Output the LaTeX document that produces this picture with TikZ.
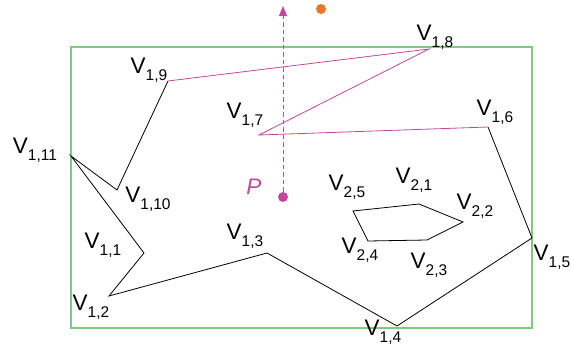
\documentclass[tikz,border=0pt]{standalone}
\usepackage{fontspec}
\setmainfont{Liberation Sans}
\usetikzlibrary{arrows.meta}
\definecolor{mag}{HTML}{C4479E}
\definecolor{grn}{HTML}{80C97F}
\definecolor{org}{HTML}{E8772A}
\newcommand{\vlab}[1]{V\raisebox{-0.32em}{\fontsize{15.5}{16}\selectfont #1}}
\tikzset{
  lbl/.style={inner sep=0pt, font=\fontsize{22.5}{24}\selectfont},
  edge/.style={line width=0.8pt, black},
  medge/.style={line width=0.8pt, mag},
}
\begin{document}
\begin{tikzpicture}[x=1pt,y=-1pt]
\useasboundingbox (0,0) rectangle (571,349);
\draw[grn, line width=1.1pt] (71,47) rectangle (532,328);
% polygon 1 vertices
\coordinate (v1) at (144,253);
\coordinate (v2) at (109,296);
\coordinate (v3) at (267,253);
\coordinate (v4) at (397,326);
\coordinate (v5) at (532,238);
\coordinate (v6) at (488,127);
\coordinate (v7) at (259,135);
\coordinate (v8) at (429,49);
\coordinate (v9) at (168,81);
\coordinate (v10) at (117,190);
\coordinate (v11) at (71,156);
% polygon 2 vertices
\coordinate (w1) at (419,204);
\coordinate (w2) at (463,222);
\coordinate (w3) at (427,240);
\coordinate (w4) at (368,241);
\coordinate (w5) at (353,211);
\draw[edge] (v6) -- (v5) -- (v4) -- (v3) -- (v2) -- (v1) -- (v11) -- (v10) -- (v9);
\draw[medge] (v9) -- (v8) -- (v7) -- (v6);
\draw[edge] (w1) -- (w2) -- (w3) -- (w4) -- (w5) -- cycle;
% point P and ray
\node[circle, fill=mag, inner sep=0pt, minimum size=10pt] (p) at (283,197) {};
\coordinate (top) at (283,6);
\draw[mag, line width=1pt, dash pattern=on 4.5pt off 3pt, -{Triangle[length=10pt,width=8pt]}] (p) -- (top);
\node[circle, fill=org, inner sep=0pt, minimum size=10pt] (o) at (321,9) {};
% labels
\node[lbl, mag] (lp) at (254,187) {\textit{P}};
\node[lbl] (l1) at (103,245) {\vlab{1,1}};
\node[lbl] (l2) at (91,307) {\vlab{1,2}};
\node[lbl] (l3) at (245,236) {\vlab{1,3}};
\node[lbl] (l4) at (383,332) {\vlab{1,4}};
\node[lbl] (l5) at (552,257) {\vlab{1,5}};
\node[lbl] (l6) at (495,112) {\vlab{1,6}};
\node[lbl] (l7) at (245,115) {\vlab{1,7}};
\node[lbl] (l8) at (435,37) {\vlab{1,8}};
\node[lbl] (l9) at (149,70) {\vlab{1,9}};
\node[lbl] (l10) at (148,199) {\vlab{1,10}};
\node[lbl] (l11) at (35,150) {\vlab{1,11}};
\node[lbl] (m1) at (414,180) {\vlab{2,1}};
\node[lbl] (m2) at (475,206) {\vlab{2,2}};
\node[lbl] (m3) at (429,265) {\vlab{2,3}};
\node[lbl] (m4) at (360,250) {\vlab{2,4}};
\node[lbl] (m5) at (347,187) {\vlab{2,5}};
\end{tikzpicture}
\end{document}
